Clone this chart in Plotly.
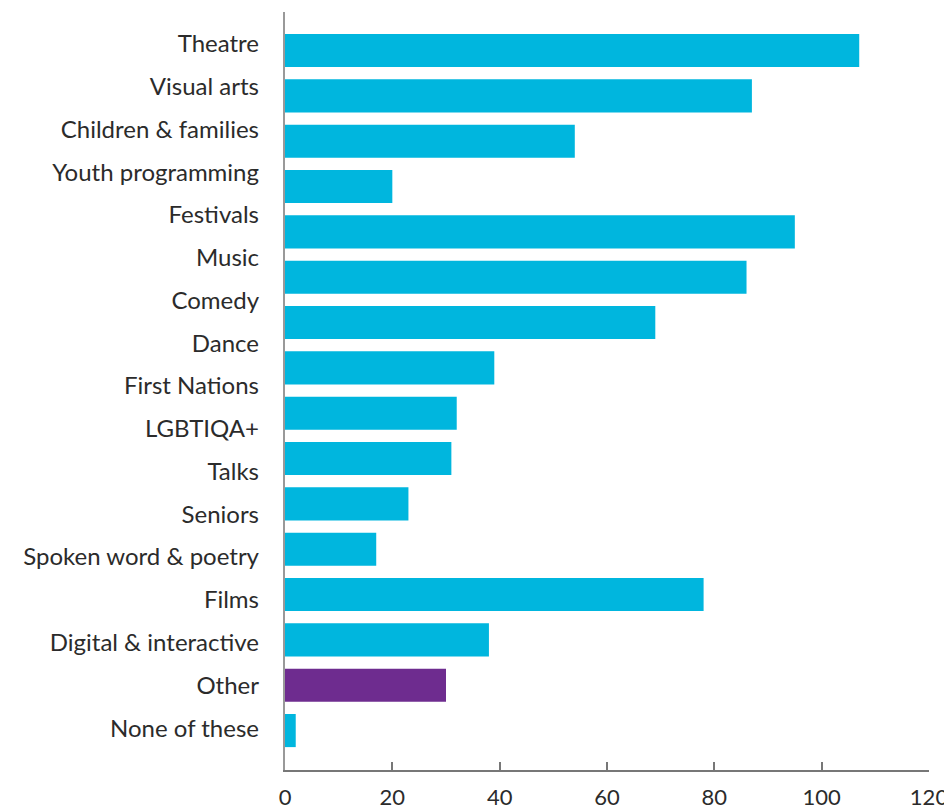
import plotly.graph_objects as go

# Category labels as printed on the y axis (17 labels)
labels = ["Theatre", "Visual arts", "Children & families", "Youth programming",
          "Festivals", "Music", "Comedy", "Dance", "First Nations", "LGBTIQA+",
          "Talks", "Seniors", "Spoken word & poetry", "Films",
          "Digital & interactive", "Other", "None of these"]

# Bar values as drawn, top to bottom (16 bars)
values = [107, 87, 54, 20, 95, 86, 69, 39, 32, 31, 23, 17, 78, 38, 30, 2]
bar_colors = ["#00B6DE"] * 14 + ["#6E2C8F", "#00B6DE"]

x_ticks = [0, 20, 40, 60, 80, 100, 120]

FONT = "Lato, 'Noto Sans', sans-serif"
TEXT = "#2b2b2b"

fig = go.Figure()

fig.add_trace(go.Bar(
    x=values,
    y=list(range(len(values))),
    orientation="h",
    width=0.73,
    marker=dict(color=bar_colors, line=dict(width=0)),
    hoverinfo="x",
    yaxis="y",
))

# invisible trace to carry the printed labels axis
fig.add_trace(go.Scatter(
    x=[0] * len(labels),
    y=labels,
    mode="markers",
    marker=dict(opacity=0),
    hoverinfo="skip",
    showlegend=False,
    yaxis="y2",
))

fig.update_layout(
    width=944, height=803,
    margin=dict(l=277, r=23, t=4, b=41),
    plot_bgcolor="white", paper_bgcolor="white",
    showlegend=False,
    font=dict(family=FONT, size=24, color=TEXT),
    xaxis=dict(
        range=[0, 120], tickvals=x_ticks, ticktext=[str(v) for v in x_ticks],
        automargin=False,
        showgrid=False, zeroline=False,
        showline=True, linecolor="#777777", linewidth=1.5,
        ticks="inside", ticklen=8, tickwidth=1.5, tickcolor="#777777",
        ticklabelstandoff=7,
        tickfont=dict(family=FONT, size=22, color=TEXT),
    ),
    yaxis=dict(
        range=[15.87, -0.85], automargin=False,
        showticklabels=False, showgrid=False, zeroline=False,
        showline=True, linecolor="#999999", linewidth=2, ticks="",
    ),
    yaxis2=dict(
        overlaying="y", side="left", type="category",
        categoryorder="array", categoryarray=labels,
        range=[16.98, -0.75], automargin=False,
        showgrid=False, zeroline=False, showline=False, ticks="",
        ticklabelstandoff=25,
        tickfont=dict(family=FONT, size=24, color=TEXT),
    ),
    bargap=0.27,
)

fig.write_html("out.html")
